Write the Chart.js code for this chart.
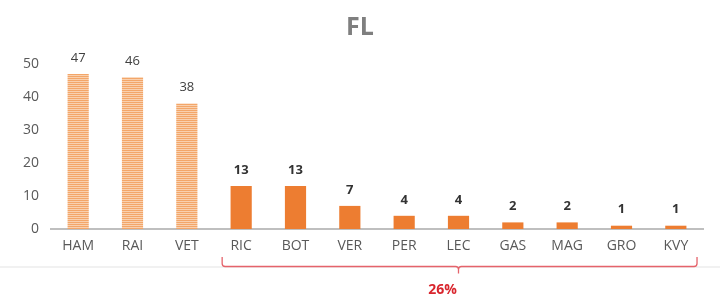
<!DOCTYPE html>
<html>
<head>
<meta charset="utf-8">
<script src="https://cdn.jsdelivr.net/npm/chart.js@4"></script>
<style>
  html, body { margin: 0; padding: 0; background: #ffffff; }
  #wrap { width: 720px; height: 304px; }
</style>
</head>
<body>
<div id="wrap"><canvas id="c" width="720" height="304"></canvas></div>
<script>
// Drivers and their counts
const categories = ['HAM', 'RAI', 'VET', 'RIC', 'BOT', 'VER', 'PER', 'LEC', 'GAS', 'MAG', 'GRO', 'KVY'];
const values = [47, 46, 38, 13, 13, 7, 4, 4, 2, 2, 1, 1];
const yTicks = [0, 10, 20, 30, 40, 50];
const groupShare = '26%';
const groupFrom = 'RIC';
const groupTo = 'KVY';
const groupMark = 'LEC';
const highlightCount = 3; // leading bars drawn with the striped fill

const FONT = "'Open Sans', 'DejaVu Sans', sans-serif";

// Striped fill for the leading bars
function stripePattern() {
  const p = document.createElement('canvas');
  p.width = 4; p.height = 2;
  const g = p.getContext('2d');
  g.fillStyle = '#F3A669'; g.fillRect(0, 0, 4, 1);
  g.fillStyle = '#F9D0AE'; g.fillRect(0, 1, 4, 1);
  return g.createPattern(p, 'repeat');
}
const ctx = document.getElementById('c').getContext('2d');
const stripes = stripePattern();
const fills = values.map((v, i) => i < highlightCount ? stripes : '#ED7D31');

// Value labels above each bar
const valueLabels = {
  id: 'valueLabels',
  afterDatasetsDraw(chart) {
    const c = chart.ctx;
    const meta = chart.getDatasetMeta(0);
    c.save();
    c.textAlign = 'center';
    c.textBaseline = 'middle';
    meta.data.forEach((bar, i) => {
      if (i < highlightCount) {
        c.font = '13px ' + FONT;
        c.fillStyle = '#404040';
      } else {
        c.font = 'bold 13px ' + FONT;
        c.fillStyle = '#333333';
      }
      c.fillText(String(values[i]), bar.x, bar.y - 16);
    });
    c.restore();
  }
};

// Separator line and the bracket grouping the smaller bars
const groupBracket = {
  id: 'groupBracket',
  afterDraw(chart) {
    const c = chart.ctx;
    const x = chart.scales.x;
    const step = x.getPixelForValue(1) - x.getPixelForValue(0);
    const left = x.getPixelForValue(categories.indexOf(groupFrom)) - 0.35 * step;
    const right = x.getPixelForValue(categories.indexOf(groupTo)) + 0.39 * step;
    const mid = x.getPixelForValue(categories.indexOf(groupMark));
    const yLine = 266.5;
    const top = 257;
    c.save();
    c.strokeStyle = '#E3E3E3';
    c.lineWidth = 1;
    c.beginPath();
    c.moveTo(0, yLine + 0.5);
    c.lineTo(chart.width, yLine + 0.5);
    c.stroke();

    c.strokeStyle = '#E5636B';
    c.lineWidth = 1.3;
    const r = 3;
    c.beginPath();
    c.moveTo(left, top);
    c.lineTo(left, yLine - r);
    c.quadraticCurveTo(left, yLine, left + r, yLine);
    c.lineTo(mid - r, yLine);
    c.quadraticCurveTo(mid, yLine, mid, yLine + r);
    c.lineTo(mid, yLine + 7);
    c.moveTo(mid, yLine + r);
    c.quadraticCurveTo(mid, yLine, mid + r, yLine);
    c.lineTo(right - r, yLine);
    c.quadraticCurveTo(right, yLine, right, yLine - r);
    c.lineTo(right, top);
    c.stroke();

    c.font = 'bold 14px ' + FONT;
    c.fillStyle = '#D9262E';
    c.textAlign = 'center';
    c.textBaseline = 'middle';
    c.fillText(groupShare, mid - 16, 290);
    c.restore();
  }
};

new Chart(ctx, {
  type: 'bar',
  data: {
    labels: categories,
    datasets: [{
      data: values,
      backgroundColor: fills,
      borderWidth: 0,
      categoryPercentage: 1,
      barPercentage: 0.39
    }]
  },
  options: {
    responsive: false,
    animation: false,
    layout: { padding: 0 },
    plugins: {
      legend: { display: false },
      tooltip: { enabled: false },
      title: {
        display: true,
        text: 'FL',
        color: '#7F7F7F',
        font: { family: FONT, size: 25, weight: 'bold', lineHeight: 1.2 },
        padding: { top: 13, bottom: 21 }
      }
    },
    scales: {
      x: {
        grid: { display: false, drawTicks: false },
        border: { display: true, color: '#BFBFBF', width: 2 },
        ticks: { color: '#595959', font: { family: FONT, size: 14 }, padding: 9 },
        afterFit(scale) { scale.height = 75; }
      },
      y: {
        min: 0,
        max: 50,
        afterBuildTicks(scale) { scale.ticks = yTicks.map(v => ({ value: v })); },
        grid: { display: false, drawTicks: false },
        border: { display: false },
        ticks: { color: '#595959', font: { family: FONT, size: 14 }, padding: 12 },
        afterFit(scale) { scale.width = 51; }
      },
      // empty right-hand margin so the title stays centred on the page
      yRight: {
        position: 'right',
        min: 0,
        max: 50,
        grid: { display: false, drawTicks: false },
        border: { display: false },
        ticks: { display: false },
        afterFit(scale) { scale.width = 17; }
      }
    }
  },
  plugins: [valueLabels, groupBracket]
});
</script>
</body>
</html>
